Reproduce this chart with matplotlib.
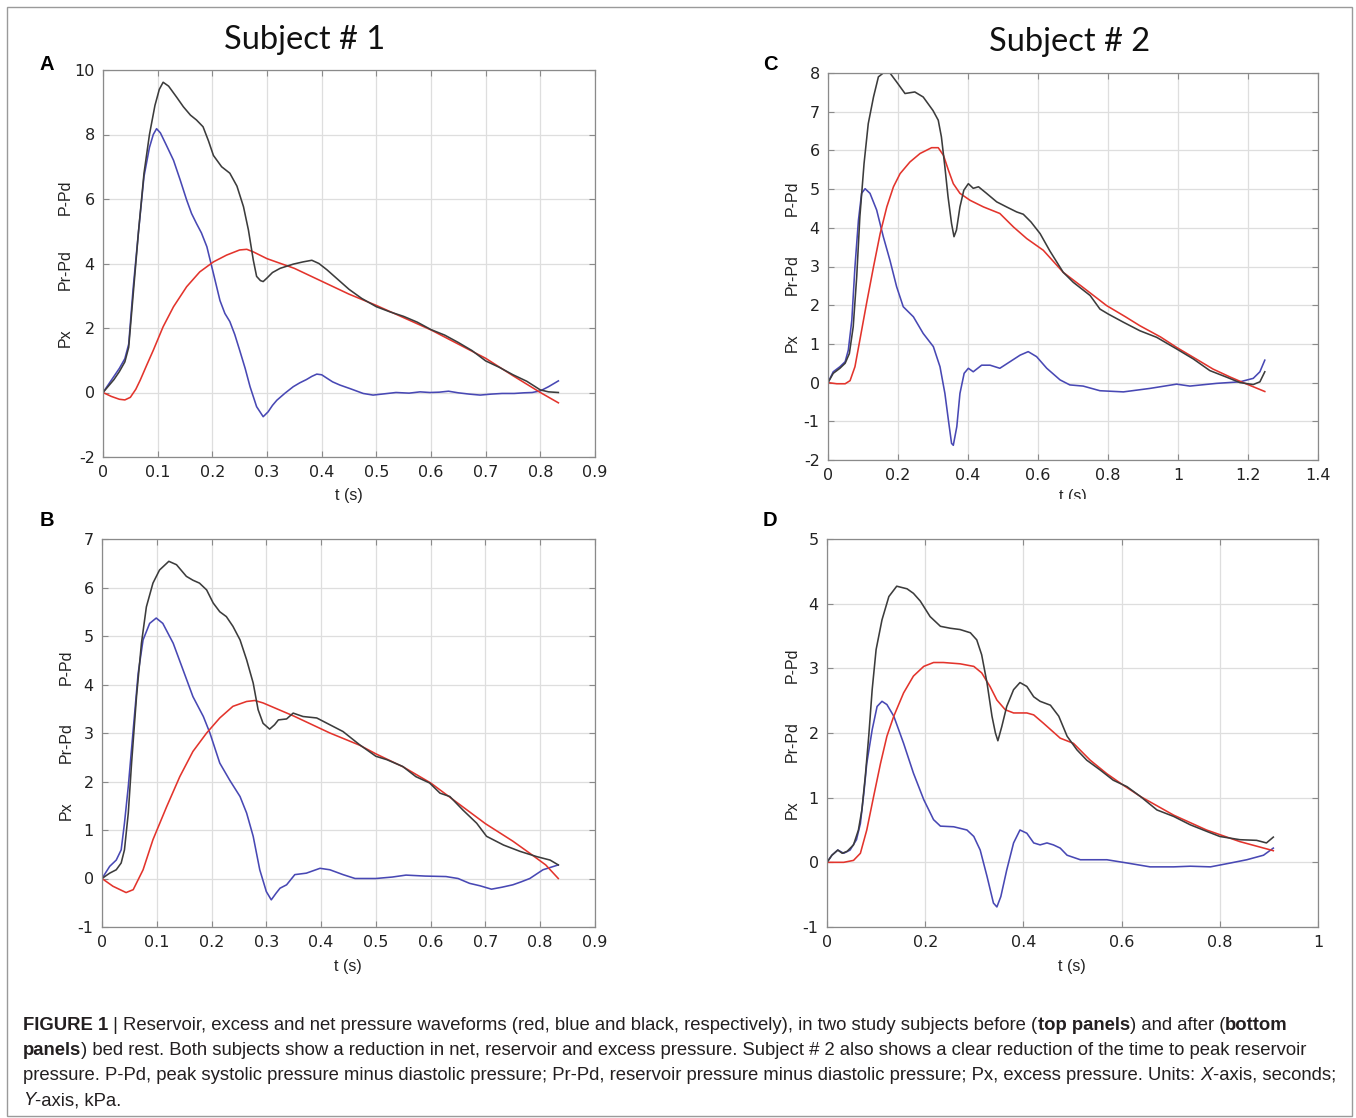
import matplotlib
matplotlib.use("Agg")
import matplotlib.pyplot as plt
from matplotlib.patches import Rectangle

W, H = 1356, 1118

# ---- panel A : subject 1, before bed rest ----
a_net_t = [0, 0.01, 0.02, 0.03, 0.04, 0.047, 0.055, 0.065, 0.075, 0.085, 0.095, 0.103, 0.11, 0.12, 0.135,
           0.147, 0.16, 0.171, 0.183, 0.193, 0.202, 0.217, 0.232, 0.245, 0.257, 0.266, 0.275, 0.281, 0.288,
           0.293, 0.3, 0.31, 0.324, 0.348, 0.366, 0.382, 0.395, 0.41, 0.43, 0.45, 0.473, 0.5, 0.525, 0.55,
           0.575, 0.6, 0.625, 0.65, 0.675, 0.7, 0.725, 0.75, 0.775, 0.8, 0.815, 0.833]
a_net = [0, 0.2, 0.4, 0.65, 0.95, 1.4, 3.0, 5.0, 6.8, 8.0, 8.9, 9.4, 9.62, 9.5, 9.15,
         8.86, 8.6, 8.45, 8.24, 7.8, 7.35, 7.0, 6.8, 6.4, 5.76, 5.04, 4.1, 3.6, 3.47,
         3.44, 3.55, 3.72, 3.85, 3.98, 4.05, 4.1, 4.0, 3.8, 3.5, 3.2, 2.92, 2.66, 2.5, 2.36,
         2.18, 1.95, 1.78, 1.55, 1.3, 0.98, 0.78, 0.55, 0.35, 0.08, 0.02, 0.0]
a_res_t = [0, 0.015, 0.03, 0.04, 0.05, 0.06, 0.068, 0.08, 0.092, 0.11, 0.129, 0.153, 0.177, 0.202, 0.226,
           0.25, 0.263, 0.275, 0.3, 0.35, 0.4, 0.45, 0.5, 0.55, 0.6, 0.65, 0.7, 0.75, 0.8, 0.833]
a_res = [0, -0.12, -0.21, -0.23, -0.15, 0.1, 0.38, 0.85, 1.31, 2.04, 2.66, 3.28, 3.74, 4.05, 4.26,
         4.42, 4.44, 4.36, 4.15, 3.85, 3.45, 3.05, 2.7, 2.32, 1.94, 1.5, 1.06, 0.52, 0.0, -0.32]
a_exc_t = [0, 0.01, 0.02, 0.03, 0.04, 0.047, 0.055, 0.065, 0.075, 0.085, 0.092, 0.098, 0.105, 0.115, 0.129,
           0.141, 0.153, 0.162, 0.171, 0.18, 0.19, 0.202, 0.214, 0.223, 0.232, 0.241, 0.25, 0.26, 0.269,
           0.281, 0.293, 0.302, 0.31, 0.318, 0.333, 0.348, 0.36, 0.372, 0.382, 0.391, 0.4, 0.409, 0.42,
           0.4335, 0.452, 0.476, 0.494, 0.51, 0.536, 0.56, 0.58, 0.598, 0.615, 0.632, 0.65, 0.67, 0.69,
           0.71, 0.73, 0.752, 0.77, 0.785, 0.8, 0.815, 0.833]
a_exc = [0, 0.25, 0.5, 0.75, 1.05, 1.5, 3.2, 5.0, 6.7, 7.6, 8.0, 8.18, 8.05, 7.7, 7.2,
         6.6, 5.97, 5.55, 5.24, 4.95, 4.52, 3.69, 2.85, 2.45, 2.2, 1.8, 1.31, 0.75, 0.18,
         -0.44, -0.75, -0.6, -0.4, -0.24, -0.02, 0.18, 0.3, 0.4, 0.5, 0.57, 0.55, 0.45, 0.33,
         0.23, 0.12, -0.03, -0.08, -0.05, 0.0, -0.02, 0.02, 0.0, 0.01, 0.04, -0.01, -0.05, -0.08,
         -0.05, -0.03, -0.03, -0.01, 0.0, 0.05, 0.18, 0.36]

# ---- panel B : subject 1, after bed rest ----
b_net_t = [0, 0.014, 0.026, 0.035, 0.041, 0.048, 0.054, 0.063, 0.072, 0.081, 0.093, 0.105, 0.122, 0.136,
           0.154, 0.166, 0.178, 0.191, 0.203, 0.215, 0.227, 0.239, 0.252, 0.264, 0.276, 0.285, 0.294,
           0.306, 0.315, 0.322, 0.337, 0.349, 0.367, 0.392, 0.416, 0.44, 0.47, 0.5, 0.52, 0.549, 0.573,
           0.598, 0.617, 0.635, 0.659, 0.684, 0.702, 0.733, 0.763, 0.794, 0.818, 0.833]
b_net = [0, 0.11, 0.18, 0.32, 0.59, 1.35, 2.38, 3.75, 4.85, 5.6, 6.09, 6.36, 6.54, 6.47,
         6.23, 6.15, 6.09, 5.95, 5.68, 5.5, 5.4, 5.2, 4.92, 4.51, 4.03, 3.48, 3.2,
         3.08, 3.17, 3.27, 3.29, 3.41, 3.34, 3.31, 3.17, 3.03, 2.76, 2.52, 2.45, 2.31, 2.1,
         1.97, 1.76, 1.69, 1.41, 1.14, 0.87, 0.69, 0.56, 0.45, 0.38, 0.28]
b_res_t = [0, 0.02, 0.044, 0.057, 0.075, 0.093, 0.118, 0.142, 0.166, 0.191, 0.215, 0.239, 0.264, 0.279,
           0.294, 0.35, 0.416, 0.47, 0.5, 0.55, 0.6, 0.65, 0.7, 0.75, 0.781, 0.81, 0.833]
b_res = [0, -0.16, -0.29, -0.23, 0.18, 0.8, 1.48, 2.1, 2.62, 3.0, 3.31, 3.55, 3.65, 3.67,
         3.62, 3.35, 3.0, 2.75, 2.57, 2.3, 1.97, 1.55, 1.13, 0.77, 0.52, 0.28, 0.0]
b_exc_t = [0, 0.014, 0.026, 0.035, 0.041, 0.048, 0.057, 0.066, 0.075, 0.087, 0.099, 0.111, 0.13, 0.148,
           0.166, 0.185, 0.197, 0.215, 0.233, 0.252, 0.264, 0.276, 0.288, 0.3, 0.309, 0.318, 0.325,
           0.337, 0.352, 0.373, 0.398, 0.416, 0.44, 0.462, 0.5, 0.53, 0.555, 0.59, 0.628, 0.65, 0.671,
           0.69, 0.711, 0.73, 0.75, 0.765, 0.781, 0.805, 0.833]
b_exc = [0, 0.25, 0.38, 0.59, 1.14, 1.9, 3.07, 4.23, 4.92, 5.26, 5.37, 5.26, 4.85, 4.3,
         3.75, 3.34, 3.0, 2.38, 2.03, 1.69, 1.35, 0.87, 0.18, -0.27, -0.44, -0.3, -0.2,
         -0.13, 0.08, 0.11, 0.21, 0.18, 0.08, 0.0, 0.0, 0.03, 0.07, 0.05, 0.04, 0.0, -0.1,
         -0.15, -0.22, -0.18, -0.13, -0.07, 0.0, 0.18, 0.28]

# ---- panel C : subject 2, before bed rest ----
c_net_t = [0, 0.015, 0.034, 0.049, 0.061, 0.072, 0.082, 0.091, 0.103, 0.115, 0.13, 0.144, 0.158, 0.177,
           0.196, 0.22, 0.248, 0.272, 0.3, 0.315, 0.324, 0.334, 0.343, 0.353, 0.36, 0.367, 0.377, 0.388,
           0.401, 0.415, 0.43, 0.453, 0.482, 0.51, 0.539, 0.558, 0.58, 0.606, 0.634, 0.672, 0.701, 0.749,
           0.777, 0.801, 0.844, 0.891, 0.939, 0.996, 1.044, 1.091, 1.139, 1.177, 1.215, 1.234, 1.248]
c_net = [0, 0.24, 0.37, 0.5, 0.75, 1.44, 2.73, 4.28, 5.66, 6.69, 7.38, 7.9, 8.0, 8.0,
         7.77, 7.47, 7.51, 7.38, 7.03, 6.78, 6.35, 5.57, 4.8, 4.11, 3.77, 3.94, 4.54, 4.97,
         5.14, 5.02, 5.06, 4.89, 4.67, 4.54, 4.41, 4.35, 4.15, 3.85, 3.4, 2.85, 2.59, 2.25,
         1.9, 1.77, 1.56, 1.34, 1.17, 0.87, 0.61, 0.31, 0.14, 0.0, -0.05, 0.02, 0.28]
c_res_t = [0, 0.025, 0.049, 0.063, 0.077, 0.091, 0.11, 0.13, 0.149, 0.168, 0.187, 0.206, 0.234, 0.263,
           0.296, 0.315, 0.33, 0.344, 0.358, 0.377, 0.406, 0.444, 0.491, 0.53, 0.568, 0.615, 0.672,
           0.73, 0.796, 0.85, 0.891, 0.95, 0.996, 1.05, 1.1, 1.15, 1.186, 1.248]
c_res = [0, -0.03, -0.03, 0.05, 0.41, 1.1, 2.04, 2.99, 3.85, 4.54, 5.06, 5.4, 5.7, 5.92,
         6.07, 6.07, 5.87, 5.49, 5.14, 4.89, 4.71, 4.54, 4.37, 4.02, 3.72, 3.42, 2.85,
         2.45, 1.99, 1.7, 1.47, 1.18, 0.91, 0.62, 0.35, 0.14, 0.0, -0.23]
c_exc_t = [0, 0.015, 0.034, 0.049, 0.058, 0.068, 0.077, 0.087, 0.096, 0.106, 0.12, 0.139, 0.158, 0.177,
           0.196, 0.215, 0.244, 0.272, 0.301, 0.32, 0.334, 0.344, 0.353, 0.358, 0.368, 0.377, 0.389,
           0.401, 0.415, 0.439, 0.463, 0.491, 0.52, 0.549, 0.572, 0.596, 0.625, 0.663, 0.691, 0.729,
           0.777, 0.844, 0.92, 0.996, 1.034, 1.11, 1.177, 1.215, 1.234, 1.248]
c_exc = [0, 0.28, 0.41, 0.54, 0.84, 1.61, 2.99, 4.2, 4.89, 5.01, 4.89, 4.46, 3.77, 3.16,
         2.48, 1.96, 1.7, 1.27, 0.93, 0.41, -0.28, -0.97, -1.57, -1.62, -1.14, -0.28, 0.24,
         0.37, 0.28, 0.45, 0.45, 0.37, 0.54, 0.71, 0.8, 0.67, 0.37, 0.07, -0.06, -0.09,
         -0.21, -0.24, -0.15, -0.04, -0.09, -0.02, 0.02, 0.11, 0.28, 0.58]

# ---- panel D : subject 2, after bed rest ----
d_net_t = [0, 0.01, 0.022, 0.031, 0.041, 0.054, 0.064, 0.071, 0.078, 0.085, 0.092, 0.1, 0.112, 0.126,
           0.142, 0.163, 0.176, 0.19, 0.21, 0.231, 0.251, 0.271, 0.292, 0.305, 0.315, 0.326, 0.336,
           0.343, 0.348, 0.356, 0.366, 0.38, 0.393, 0.407, 0.421, 0.434, 0.455, 0.472, 0.489, 0.509,
           0.529, 0.556, 0.583, 0.611, 0.638, 0.672, 0.706, 0.74, 0.773, 0.8, 0.841, 0.875, 0.895, 0.909]
d_net = [0, 0.11, 0.19, 0.14, 0.17, 0.27, 0.5, 0.81, 1.33, 1.95, 2.67, 3.29, 3.75, 4.11,
         4.27, 4.23, 4.16, 4.04, 3.8, 3.65, 3.62, 3.6, 3.55, 3.44, 3.21, 2.77, 2.26,
         2.0, 1.88, 2.1, 2.41, 2.67, 2.78, 2.72, 2.56, 2.49, 2.43, 2.26, 1.95, 1.74,
         1.58, 1.43, 1.27, 1.17, 1.02, 0.81, 0.71, 0.58, 0.48, 0.4, 0.35, 0.34, 0.3, 0.39]
d_res_t = [0, 0.034, 0.054, 0.068, 0.081, 0.095, 0.109, 0.122, 0.136, 0.156, 0.176, 0.197, 0.217, 0.237,
           0.271, 0.299, 0.315, 0.332, 0.346, 0.363, 0.38, 0.407, 0.421, 0.441, 0.475, 0.502, 0.536,
           0.57, 0.604, 0.638, 0.706, 0.773, 0.841, 0.909]
d_res = [0, 0.0, 0.03, 0.14, 0.5, 1.02, 1.53, 1.95, 2.26, 2.62, 2.88, 3.03, 3.09, 3.09,
         3.07, 3.03, 2.93, 2.72, 2.51, 2.36, 2.31, 2.31, 2.28, 2.15, 1.92, 1.84, 1.58,
         1.37, 1.19, 1.02, 0.73, 0.5, 0.32, 0.18]
d_exc_t = [0, 0.01, 0.022, 0.034, 0.047, 0.06, 0.068, 0.075, 0.081, 0.092, 0.102, 0.112, 0.122, 0.136,
           0.156, 0.176, 0.197, 0.217, 0.231, 0.258, 0.285, 0.299, 0.312, 0.326, 0.339, 0.346, 0.354,
           0.366, 0.38, 0.393, 0.407, 0.421, 0.434, 0.448, 0.461, 0.475, 0.489, 0.516, 0.57, 0.611,
           0.658, 0.706, 0.74, 0.781, 0.822, 0.855, 0.889, 0.909]
d_exc = [0, 0.11, 0.19, 0.14, 0.19, 0.35, 0.6, 1.07, 1.53, 2.05, 2.41, 2.49, 2.44, 2.26,
         1.84, 1.38, 0.97, 0.66, 0.56, 0.55, 0.5, 0.4, 0.19, -0.22, -0.63, -0.69, -0.53,
         -0.12, 0.3, 0.5, 0.45, 0.3, 0.27, 0.3, 0.27, 0.22, 0.11, 0.04, 0.04, -0.01,
         -0.07, -0.07, -0.06, -0.07, -0.01, 0.04, 0.11, 0.22]

ylabels = ["P-Pd", "Pr-Pd", "Px"]

fig = plt.figure(figsize=(W / 100, H / 100), dpi=100)
fig.patch.set_facecolor("white")


def px_axes(l, r, t, b):
    return fig.add_axes([l / W, 1 - b / H, (r - l) / W, (b - t) / H])


def fmt(v):
    return "%g" % round(v, 2)


def panel(box, xt, yt, series):
    ax = px_axes(*box)
    for tt, vv, c in series:
        ax.plot(tt, vv, color=c, lw=1.15)
    ax.set_xlim(xt[0], xt[-1])
    ax.set_ylim(yt[0], yt[-1])
    ax.set_xticks(xt)
    ax.set_yticks(yt)
    ax.set_xticklabels([fmt(v) for v in xt])
    ax.set_yticklabels([fmt(v) for v in yt])
    ax.grid(True, color="#dedede", lw=0.9)
    ax.set_axisbelow(True)
    ax.tick_params(direction="in", top=True, right=True, length=4, width=0.8,
                   color="#8a8a8a", labelsize=11.5, labelcolor="#222222", pad=6)
    for s in ax.spines.values():
        s.set_color("#8a8a8a")
        s.set_linewidth(0.9)
    return ax


BLACK, BLUE, RED = "#3c3c3c", "#4848b4", "#e3342c"
XT9 = [0, 0.1, 0.2, 0.3, 0.4, 0.5, 0.6, 0.7, 0.8, 0.9]

panel((103, 595, 70, 457), XT9, [-2, 0, 2, 4, 6, 8, 10],
      [(a_exc_t, a_exc, BLUE), (a_res_t, a_res, RED), (a_net_t, a_net, BLACK)])
panel((102, 595, 539, 927), XT9, [-1, 0, 1, 2, 3, 4, 5, 6, 7],
      [(b_exc_t, b_exc, BLUE), (b_res_t, b_res, RED), (b_net_t, b_net, BLACK)])
panel((828, 1318, 73, 460), [0, 0.2, 0.4, 0.6, 0.8, 1.0, 1.2, 1.4], [-2, -1, 0, 1, 2, 3, 4, 5, 6, 7, 8],
      [(c_exc_t, c_exc, BLUE), (c_res_t, c_res, RED), (c_net_t, c_net, BLACK)])
panel((827, 1318, 539, 927), [0, 0.2, 0.4, 0.6, 0.8, 1.0], [-1, 0, 1, 2, 3, 4, 5],
      [(d_exc_t, d_exc, BLUE), (d_res_t, d_res, RED), (d_net_t, d_net, BLACK)])


def ftext(x, y, s, **kw):
    return fig.text(x / W, 1 - y / H, s, **kw)


SANS = ["Liberation Sans", "DejaVu Sans"]

# stacked y labels
for x0, ys in [(65, (197, 270, 338)), (792, (198, 275, 343)),
               (66, (667, 743, 811)), (792, (665, 742, 810))]:
    for lab, yy in zip(ylabels, ys):
        ftext(x0, yy, lab, rotation=90, ha="center", va="center", fontsize=11.5,
              family=SANS, color="#222222")

# x labels
for x0, y0 in [(349, 495), (1073, 496), (348, 966), (1072, 966)]:
    ftext(x0, y0, "t (s)", ha="center", va="center", fontsize=11.5, family=SANS, color="#222222")
# the original crop cuts through the label of panel C
fig.patches.append(Rectangle(((1040) / W, 1 - 510 / H), 70 / W, 10.5 / H, transform=fig.transFigure,
                             facecolor="white", edgecolor="none", zorder=10))

# panel letters and titles
for lab, x0, y0 in [("A", 47, 64), ("B", 47, 521), ("C", 770, 64), ("D", 770, 521)]:
    ftext(x0, y0, lab, ha="center", va="center", fontsize=14.5, fontweight="bold", family=SANS)
ftext(305, 40, "Subject # 1", ha="center", va="center", fontsize=23.5, family=["Lato", "DejaVu Sans"],
      color="#111111")
ftext(1070, 42, "Subject # 2", ha="center", va="center", fontsize=23.5, family=["Lato", "DejaVu Sans"],
      color="#111111")

# frame round the whole figure
fig.patches.append(Rectangle((7 / W, 1 - 1116 / H), 1345 / W, 1109 / H, transform=fig.transFigure,
                             fill=False, edgecolor="#9a9a9a", lw=1.0))

# caption with bold / italic runs
CAP = ["Liberation Sans", "DejaVu Sans"]
CAP_SIZE = 13.3
renderer = fig.canvas.get_renderer()


def width_of(s, **kw):
    t1 = fig.text(0, 0, "|" + s + "|", **kw)
    t2 = fig.text(0, 0, "||", **kw)
    w = t1.get_window_extent(renderer).width - t2.get_window_extent(renderer).width
    t1.remove()
    t2.remove()
    return w


caption = [
    [("FIGURE 1", "bold", "normal"), (" | ", "normal", "normal"),
     ("Reservoir, excess and net pressure waveforms (red, blue and black, respectively), in two study subjects before (", "normal", "normal"),
     ("top panels", "bold", "normal"), (") and after (", "normal", "normal"), ("bottom", "bold", "normal")],
    [("panels", "bold", "normal"),
     (") bed rest. Both subjects show a reduction in net, reservoir and excess pressure. Subject # 2 also shows a clear reduction of the time to peak reservoir", "normal", "normal")],
    [("pressure. P-Pd, peak systolic pressure minus diastolic pressure; Pr-Pd, reservoir pressure minus diastolic pressure; Px, excess pressure. Units: ", "normal", "normal"),
     ("X", "normal", "italic"), ("-axis, seconds;", "normal", "normal")],
    [("Y", "normal", "italic"), ("-axis, kPa.", "normal", "normal")],
]
for i, line in enumerate(caption):
    x = 23
    y = 1030 + 25 * i
    for s, wgt, sty in line:
        kw = dict(fontsize=CAP_SIZE, fontweight=wgt, fontstyle=sty, family=CAP, color="#231f20")
        ftext(x, y, s, ha="left", va="baseline", **kw)
        x += width_of(s, **kw)

fig.savefig("out.png", dpi=100)
